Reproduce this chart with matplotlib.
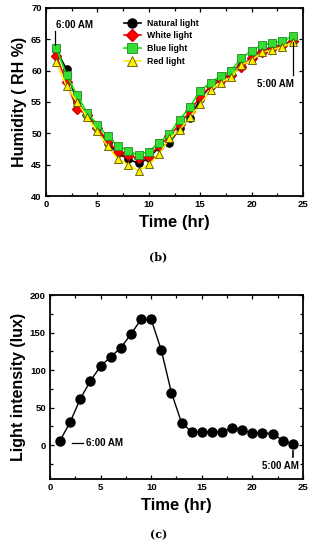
import matplotlib
matplotlib.use("Agg")
import matplotlib.pyplot as plt
from matplotlib.ticker import MultipleLocator, FixedLocator

plt.rcParams['font.family'] = ['Liberation Sans', 'DejaVu Sans']
plt.rcParams['font.weight'] = 'bold'

hours = list(range(1, 25))
natural = [63.3, 60.2, 55.0, 53.0, 51.0, 48.4, 46.8, 45.9, 45.2, 46.0, 47.8, 48.4,
           50.8, 52.4, 55.5, 57.5, 58.5, 59.3, 60.7, 62.0, 63.2, 63.6, 64.1, 64.8]
white = [62.4, 58.2, 53.9, 53.0, 50.8, 48.8, 47.0, 46.5, 46.0, 46.3, 48.0, 49.5,
         51.5, 53.5, 55.85, 57.5, 58.5, 59.3, 60.5, 62.0, 63.0, 63.6, 64.1, 64.8]
blue = [63.6, 59.3, 56.1, 53.3, 51.4, 49.5, 48.0, 47.2, 46.5, 47.1, 48.5, 49.9,
        52.2, 54.2, 56.8, 58.1, 59.15, 60.0, 62.0, 63.2, 64.1, 64.4, 64.7, 65.5]
red = [61.4, 57.5, 55.05, 52.65, 50.3, 47.9, 45.9, 45.0, 44.0, 45.05, 46.65, 49.2,
       50.5, 52.6, 54.6, 56.9, 58.1, 58.95, 60.9, 61.7, 62.9, 63.3, 63.8, 64.5]
light = [6.2, 31, 62, 85.7, 105.3, 117.7, 129.7, 148, 167.5, 167.5, 126.6, 70,
         30, 17.7, 17.7, 17.7, 17.7, 23.5, 20, 16.4, 16.4, 15.5, 6.2, 1.3]

fig = plt.figure(figsize=(3.17, 5.5), dpi=100)
ax1 = fig.add_axes([0.145, 0.6436, 0.811, 0.342])
ax2 = fig.add_axes([0.1577, 0.129, 0.798, 0.3346])

tick_fs = 6.8
for ax in (ax1, ax2):
    for s in ax.spines.values():
        s.set_linewidth(1.3)
    ax.tick_params(which='both', direction='in', top=True, right=True, width=0.9,
                   labelsize=tick_fs, pad=3)
    ax.tick_params(which='major', length=3)
    ax.tick_params(which='minor', length=2)
    ax.set_xlim(0, 25)
    ax.xaxis.set_major_locator(MultipleLocator(5))
    ax.xaxis.set_minor_locator(MultipleLocator(2.5))

ms = 5.2
ax1.plot(hours, natural, '-o', color='black', mfc='black', mec='black', ms=ms, lw=1.2, label='Natural light')
ax1.plot(hours, white, '-D', color='#ff0000', mfc='#ff0000', mec='#cc0000', ms=ms - 0.5, lw=1.2, label='White light')
ax1.plot(hours, blue, '-s', color='#00ee00', mfc='#33dd33', mec='#228822', mew=0.6, ms=ms, lw=1.2, label='Blue light')
ax1.plot(hours, red, '-^', color='#ffee00', mfc='#ffee00', mec='#555500', mew=0.6, ms=ms + 0.5, lw=1.2, label='Red light')
ax1.set_ylim(40, 70)
ax1.yaxis.set_major_locator(MultipleLocator(5))
ax1.set_xlabel('Time (hr)', fontsize=12, fontweight='bold', labelpad=4)
ax1.set_ylabel('Humidity ( RH %)', fontsize=11.5, fontweight='bold', labelpad=3)
leg = ax1.legend(loc='upper left', bbox_to_anchor=(0.278, 0.975), frameon=False,
                 prop={'weight': 'bold', 'size': 6.3}, handlelength=2.0,
                 labelspacing=0.42, handletextpad=0.7, borderaxespad=0.3,
                 markerscale=1.25)

ax1.text(2.75, 67.3, '6:00 AM', ha='center', va='center', fontsize=7, fontweight='bold')
ax1.plot([0.9, 0.9], [64.1, 66.3], color='black', lw=0.9)
ax1.text(22.3, 57.8, '5:00 AM', ha='center', va='center', fontsize=7, fontweight='bold')
ax1.plot([24, 24], [59.3, 64.6], color='black', lw=0.9)

ax2.plot(hours, light, '-o', color='black', mfc='black', mec='black', ms=6.5, lw=1.0)
ax2.set_ylim(-45, 200)
ax2.yaxis.set_major_locator(FixedLocator([0, 50, 100, 150, 200]))
ax2.yaxis.set_minor_locator(MultipleLocator(25))
ax2.set_xlabel('Time (hr)', fontsize=12, fontweight='bold', labelpad=4)
ax2.set_ylabel('Light intensity (lux)', fontsize=11.5, fontweight='bold', labelpad=3)
ax2.plot([2.2, 3.3], [3.5, 3.5], color='black', lw=0.9)
ax2.text(3.6, 3.5, '6:00 AM', fontsize=7, fontweight='bold', va='center', ha='left')
ax2.plot([24, 24], [-8, -15], color='black', lw=1.2)
ax2.text(24.6, -28, '5:00 AM', fontsize=7, fontweight='bold', va='center', ha='right')

for ax in (ax1, ax2):
    for lab in ax.get_xticklabels() + ax.get_yticklabels():
        lab.set_fontweight('bold')

fig.text(0.5, 1 - 257 / 550, '(b)', fontsize=8, family='DejaVu Serif', ha='center', va='center')
fig.text(0.5, 1 - 535 / 550, '(c)', fontsize=8, family='DejaVu Serif', ha='center', va='center')

fig.savefig('out.png', dpi=100)
